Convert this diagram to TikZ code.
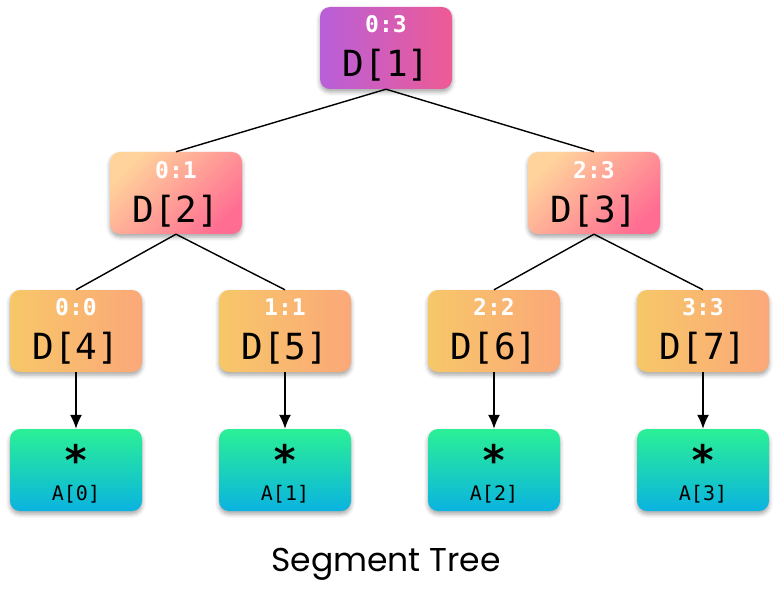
\documentclass[tikz,border=0pt]{standalone}
\usepackage{fontspec}
\setmonofont{DejaVu Sans Mono}
\setsansfont{Poppins}
\usetikzlibrary{shadows.blur,arrows.meta}
\definecolor{purp}{HTML}{B85FD9}
\definecolor{rose}{HTML}{EE5B95}
\definecolor{peach}{HTML}{FFD39B}
\definecolor{pinkish}{HTML}{FF6E92}
\definecolor{sun}{HTML}{F7C768}
\definecolor{salmon}{HTML}{FBA879}
\definecolor{mint}{HTML}{2BF096}
\definecolor{sky}{HTML}{0AB3E0}
\tikzset{
  box/.style={rounded corners=10pt,minimum width=132pt,minimum height=82pt,
    inner sep=0pt,
    blur shadow={shadow xshift=0pt,shadow yshift=-3pt,shadow blur radius=4pt,shadow opacity=35}},
  rootbox/.style={box,left color=purp,right color=rose},
  midbox/.style={box,top color=peach,bottom color=pinkish,shading angle=45},
  lowbox/.style={box,left color=sun,right color=salmon},
  leafbox/.style={box,top color=mint,bottom color=sky},
  spanlbl/.style={font=\ttfamily\bfseries\fontsize{23}{25}\selectfont,text=white,inner sep=0pt},
  idlbl/.style={font=\ttfamily\fontsize{36}{38}\selectfont,inner sep=0pt},
  starlbl/.style={font=\ttfamily\bfseries\fontsize{42}{44}\selectfont,inner sep=0pt},
  celllbl/.style={font=\ttfamily\fontsize{20}{22}\selectfont,inner sep=0pt},
  treeline/.style={line width=1.4pt},
  downarrow/.style={line width=1.4pt,-{Latex[length=14pt,width=12pt]}}
}
\begin{document}
\begin{tikzpicture}[x=1pt,y=-1pt]
\useasboundingbox (0,0) rectangle (779,604);
% tree nodes
\node [rootbox] (d1) at (386,48) {};
\node [midbox] (d2) at (176,193) {};
\node [midbox] (d3) at (594,193) {};
\node [lowbox] (d4) at (76,331) {};
\node [lowbox] (d5) at (285,331) {};
\node [lowbox] (d6) at (494,331) {};
\node [lowbox] (d7) at (703,331) {};
% array cells
\node [leafbox] (a0) at (76,470) {};
\node [leafbox] (a1) at (285,470) {};
\node [leafbox] (a2) at (494,470) {};
\node [leafbox] (a3) at (703,470) {};
% labels
\node [spanlbl] (r1) at (386,24) {0:3};
\node [idlbl] (i1) at (386,65) {D[1]};
\node [spanlbl] (r2) at (176,170) {0:1};
\node [spanlbl] (r3) at (594,170) {2:3};
\node [idlbl] (i2) at (176,211) {D[2]};
\node [idlbl] (i3) at (594,211) {D[3]};
\node [spanlbl] (r4) at (76,307) {0:0};
\node [spanlbl] (r5) at (285,307) {1:1};
\node [spanlbl] (r6) at (494,307) {2:2};
\node [spanlbl] (r7) at (703,307) {3:3};
\node [idlbl] (i4) at (76,348) {D[4]};
\node [idlbl] (i5) at (285,348) {D[5]};
\node [idlbl] (i6) at (494,348) {D[6]};
\node [idlbl] (i7) at (703,348) {D[7]};
\node [starlbl] (s0) at (76,460) {*};
\node [starlbl] (s1) at (285,460) {*};
\node [starlbl] (s2) at (494,460) {*};
\node [starlbl] (s3) at (703,460) {*};
\node [celllbl] (v0) at (76,494) {A[0]};
\node [celllbl] (v1) at (285,494) {A[1]};
\node [celllbl] (v2) at (494,494) {A[2]};
\node [celllbl] (v3) at (703,494) {A[3]};
% edges
\draw [treeline] (d1.south) -- (d2.north);
\draw [treeline] (d1.south) -- (d3.north);
\draw [treeline] (d2.south) -- (d4.north);
\draw [treeline] (d2.south) -- (d5.north);
\draw [treeline] (d3.south) -- (d6.north);
\draw [treeline] (d3.south) -- (d7.north);
\draw [downarrow] (d4.south) -- (a0.north);
\draw [downarrow] (d5.south) -- (a1.north);
\draw [downarrow] (d6.south) -- (a2.north);
\draw [downarrow] (d7.south) -- (a3.north);
\node [font=\sffamily\fontsize{33}{36}\selectfont] (title) at (386,564) {Segment Tree};
\end{tikzpicture}
\end{document}
